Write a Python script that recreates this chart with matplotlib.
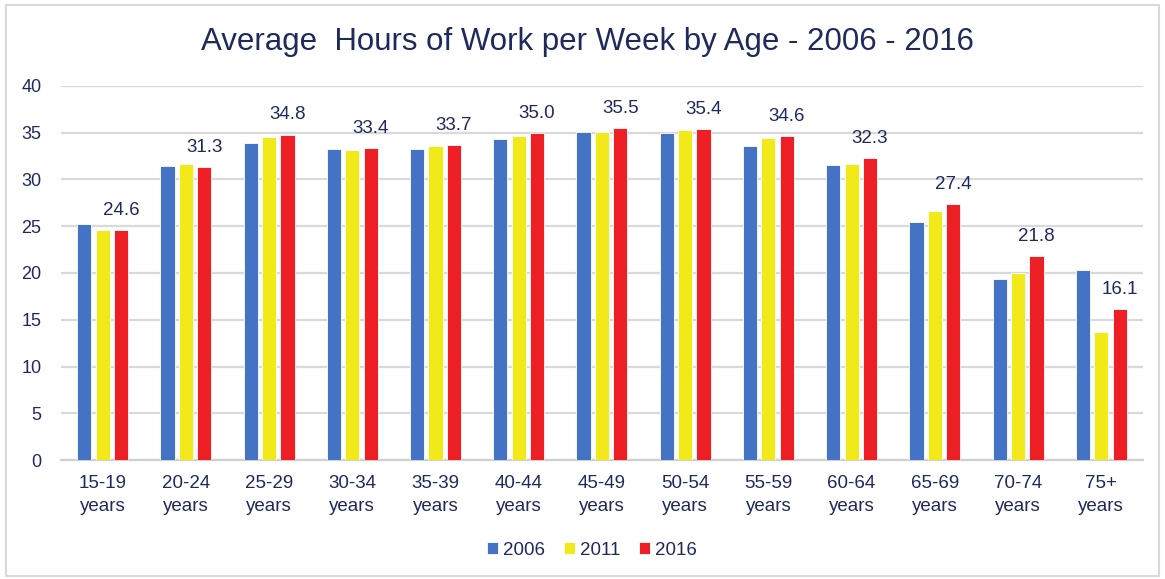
import numpy as np
import matplotlib.pyplot as plt
from matplotlib.patches import Rectangle

# ---- data ----
ages = ['15-19\nyears', '20-24\nyears', '25-29\nyears', '30-34\nyears',
        '35-39\nyears', '40-44\nyears', '45-49\nyears', '50-54\nyears',
        '55-59\nyears', '60-64\nyears', '65-69\nyears', '70-74\nyears',
        '75+\nyears']
h2006 = [25.2, 31.4, 33.9, 33.3, 33.3, 34.3, 35.1, 35.0, 33.6, 31.6, 25.5, 19.4, 20.3]
h2011 = [24.6, 31.7, 34.5, 33.2, 33.6, 34.7, 35.1, 35.3, 34.4, 31.7, 26.6, 20.0, 13.7]
h2016 = [24.6, 31.3, 34.8, 33.4, 33.7, 35.0, 35.5, 35.4, 34.6, 32.3, 27.4, 21.8, 16.1]
years = ['2006', '2011', '2016']

navy = '#1f2a5c'
cols = ['#4472c4', '#f2ea18', '#ee1e25']

plt.rcParams['font.family'] = ['Liberation Sans', 'DejaVu Sans']

fig = plt.figure(figsize=(11.65, 5.79), dpi=100)
ax = fig.add_axes([0.0524, 0.2055, 0.9286, 0.646])

x = np.arange(len(ages))
w = 0.17
off = 0.221
series = [h2006, h2011, h2016]
bars = []
for i, (vals, c) in enumerate(zip(series, cols)):
  b = ax.bar(x + (i-1)*off, vals, w, color=c, edgecolor='white',
             linewidth=0.6, zorder=3, label=years[i])
  bars.append(b)

for xi, v in zip(x, h2016):
  ax.annotate('%.1f' % v, (xi + off, v), xytext=(0, 8),
              textcoords='offset points', ha='center', va='bottom',
              fontsize=13.5, color=navy)

ax.set_xlim(-0.5, len(ages)-0.5)
ax.set_ylim(0, 40)
ax.set_yticks(np.arange(0, 41, 5))
ax.set_xticks(x)
ax.set_xticklabels(ages, fontsize=13.5, color=navy, linespacing=1.45)
ax.tick_params(axis='y', length=0, pad=14, labelsize=13, labelcolor=navy)
ax.tick_params(axis='x', length=0, pad=11)
ax.grid(axis='y', color='#d9d9d9', lw=1.6, zorder=0)
for s in ['top', 'right', 'left']:
  ax.spines[s].set_visible(False)
ax.spines['bottom'].set_color('#d0d0d0')
ax.spines['bottom'].set_linewidth(1.6)

fig.text(0.504, 0.927, 'Average  Hours of Work per Week by Age - 2006 - 2016',
         ha='center', va='center', fontsize=22.5, color=navy)

fig.legend(handles=bars, labels=years, loc='center', bbox_to_anchor=(0.508, 0.05),
           ncol=3, frameon=False, fontsize=13.5, handlelength=0.6, handleheight=0.6,
           handletextpad=0.25, columnspacing=1.0, labelcolor=navy)

fig.patches.append(Rectangle((0.005, 0.005), 0.99, 0.987, transform=fig.transFigure,
                             fill=False, edgecolor='#d9d9d9', lw=1.5))

fig.savefig('out.png', dpi=100)
